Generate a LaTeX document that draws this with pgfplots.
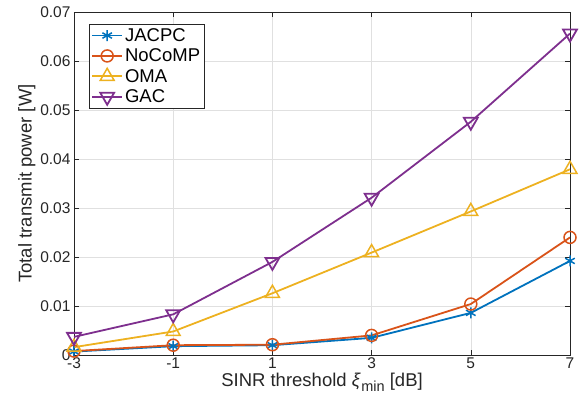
\documentclass[border=0pt]{standalone}
\usepackage{fontspec}
\setmainfont{Liberation Sans}
\usepackage{pgfplots}
\pgfplotsset{compat=1.18}
\definecolor{c1}{rgb}{0,0.447,0.741}
\definecolor{c2}{rgb}{0.85,0.325,0.098}
\definecolor{c3}{rgb}{0.929,0.694,0.125}
\definecolor{c4}{rgb}{0.494,0.184,0.556}
\definecolor{axc}{rgb}{0.15,0.15,0.15}
\begin{document}
\begin{tikzpicture}
\begin{axis}[name=ax,
  scale only axis, width=496pt, height=343pt,
  xmin=-3, xmax=7, ymin=0, ymax=0.07,
  xtick={-3,-1,1,3,5,7}, xticklabels={-3,-1,1,3,5,7},
  ytick={0,0.01,0.02,0.03,0.04,0.05,0.06,0.07},
  yticklabels={0,0.01,0.02,0.03,0.04,0.05,0.06,0.07},
  scaled y ticks=false,
  /pgf/number format/assume math mode=true,
  tick label style={font=\fontsize{15.5}{18}\selectfont, text=axc},
  x tick label style={yshift=1pt},
  label style={font=\fontsize{18.5}{21}\selectfont, text=axc},
  xlabel={SINR threshold \textit{ξ}\kern0.5pt\raisebox{-0.5ex}{\fontsize{14.5}{16}\selectfont min} [dB]},
  ylabel={Total transmit power [W]},
  xlabel style={yshift=2pt},
  ylabel style={yshift=-2pt},
  grid=major, major grid style={color=black!12, line width=0.6pt},
  axis line style={color=axc, line width=0.7pt},
  tick style={color=axc, line width=0.7pt},
  major tick length=5pt,
  tick align=inside,
  every tick/.style={axc},
  legend style={at={(rel axis cs:0,1)}, anchor=north west, xshift=15pt, yshift=-12pt,
    draw=axc, line width=0.6pt, font=\fontsize{18.5}{21}\selectfont, inner sep=2pt,
    row sep=2pt},
  legend cell align=left,
  legend image code/.code={\draw[#1] (0pt,0pt) -- (30pt,0pt); \draw[#1, mark repeat=2, mark phase=2] plot coordinates {(0pt,0pt) (15pt,0pt) (30pt,0pt)};},
  every axis plot/.append style={line width=1.8pt, mark options={solid, line width=1.5pt, fill=none}},
]
\addplot[color=c1, mark=asterisk, mark size=5.5pt] coordinates {(-3,0.0007) (-1,0.0018) (1,0.0020) (3,0.0035) (5,0.0086) (7,0.0192)};
\addlegendentry{JACPC}
\addplot[color=c2, mark=o, mark size=6pt] coordinates {(-3,0.0008) (-1,0.0020) (1,0.0021) (3,0.0040) (5,0.0104) (7,0.0240)};
\addlegendentry{NoCoMP}
\addplot[color=c3, mark=triangle, mark size=8pt] coordinates {(-3,0.0016) (-1,0.0048) (1,0.0126) (3,0.0209) (5,0.0293) (7,0.0379)};
\addlegendentry{OMA}
\addplot[color=c4, mark=triangle, mark options={rotate=180}, mark size=8pt] coordinates {(-3,0.0037) (-1,0.0083) (1,0.0190) (3,0.0321) (5,0.0476) (7,0.0656)};
\addlegendentry{GAC}
\end{axis}
\pgfresetboundingbox
\path (ax.south west) ++(-74pt,-50pt) rectangle ++(583pt,405pt);
\end{tikzpicture}
\end{document}
